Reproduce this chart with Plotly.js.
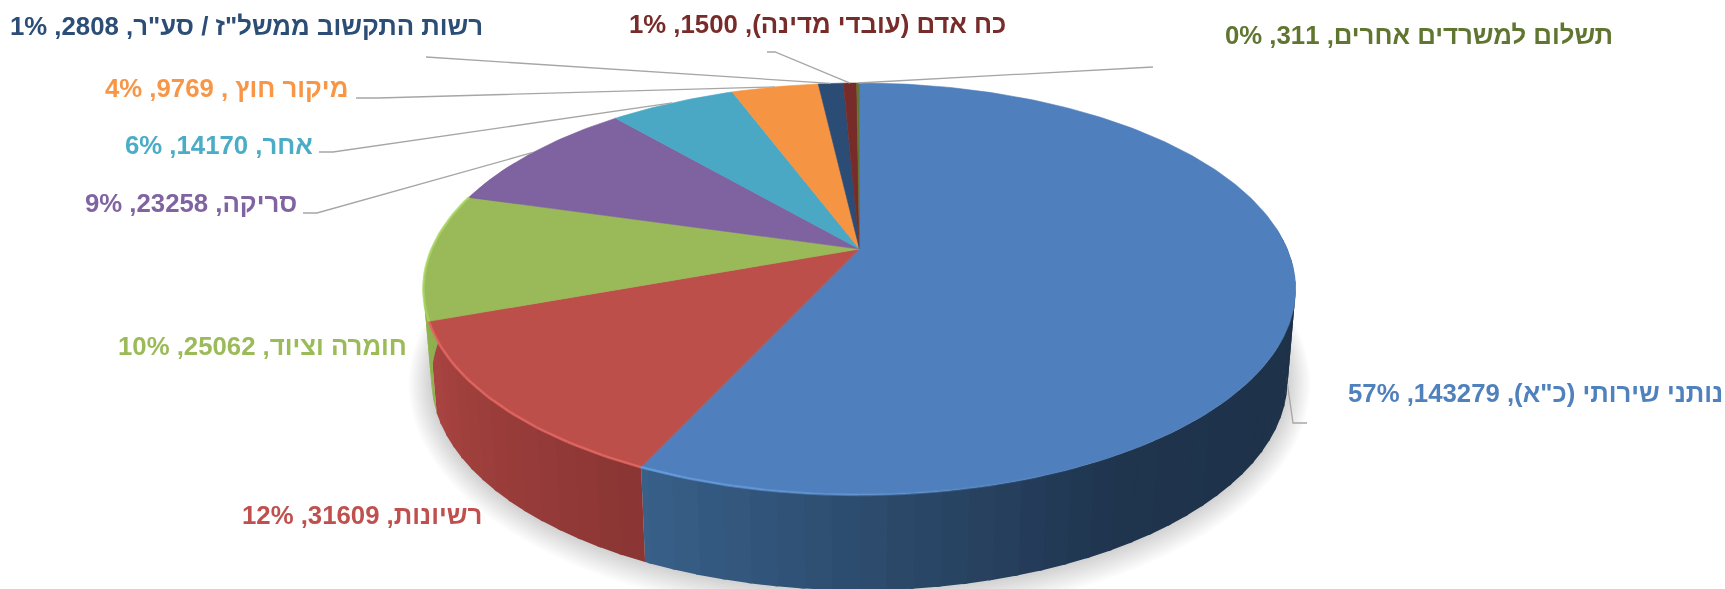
<!DOCTYPE html>
<html><head><meta charset="utf-8">
<script src="https://cdn.plot.ly/plotly-3.0.1.min.js"></script>
<style>html,body{margin:0;padding:0;background:#fff;overflow:hidden}#chart{width:1725px;height:589px;filter:blur(0.55px)}</style>
</head><body><div id="chart"></div>
<script>
// ---- data (clockwise from 12 o'clock)
const categories = ['נותני שירותי (כ"א)','רשיונות','חומרה וציוד','סריקה','אחר','מיקור חוץ ','רשות התקשוב ממשל"ז / סע"ר','כח אדם (עובדי מדינה)','תשלום למשרדים אחרים'];
const values = [143279,31609,25062,23258,14170,9769,2808,1500,311];
const percentLabels = ['57%','12%','10%','9%','6%','4%','1%','1%','0%'];

// ---- styles
const sliceColors = ['#4f7fbc','#bd4f4b','#9ab958','#7f62a0','#4aa8c4','#f59544','#2a4c75','#772c2a','#5f7530'];
const labelColors = ['#4f81bd','#c0504d','#9bbb59','#8064a2','#4bacc6','#f79646','#2c4d75','#772c2a','#5f7530'];
const wallStops = [
  [[100,'#1d3148'],[150,'#1f344d'],[205,'#38608a']],
  [[205,'#8a3634'],[250,'#aa4441']],
  [[250,'#8fb050'],[286,'#8fb050']],
  [[286,'#6b5287'],[319,'#6b5287']],[[319,'#3f8ea4'],[340,'#3f8ea4']],[[340,'#cf7d38'],[354,'#cf7d38']],
  [[354,'#234062'],[358,'#234062']],[[358,'#632523'],[360,'#632523']],[[360,'#4f6128'],[360,'#4f6128']]
];
// ---- layout in pixel-like axis units
const W = 1725, H = 589;
const top3d = {cx:859.5, cy:249, a:427.8, b:198.2, k:0.194};
const bot3d = {cx:859.5, cy:339, a:420, b:202.6, k:0.194};
const labelRight = [1725,484,409,299,315,350,485,1008,1615];
const labelMidY  = [393,515,346,203,145,88,26,24,35];
const labelKnee = [[[1307,423],[1293,423]],null,null,[[303,213],[317,213]],[[319,152],[333,152]],[[356,98],[378,98]],[[426,57]],[[767,52],[775,52]],[[1153,67]]];
const fontSize = 25.75;

function proj(p, thetaDeg, grow){
  const t = thetaDeg*Math.PI/180, u = Math.sin(t), v = Math.cos(t), w = 1+p.k*v, g = grow||0;
  return [p.cx+(p.a+g)*u/w, p.cy-(p.b+g)*v/w];
}
function arc(p,t1,t2,grow){
  const n = Math.max(2,Math.ceil(Math.abs(t2-t1)/1)), pts=[];
  for(let i=0;i<=n;i++) pts.push(proj(p,t1+(t2-t1)*i/n,grow));
  return pts;
}
function hex2rgb(h){return [1,3,5].map(i=>parseInt(h.substr(i,2),16));}
function wallColor(i,th){
  const s = wallStops[i];
  if(th<=s[0][0]) return s[0][1];
  for(let j=1;j<s.length;j++){
    if(th<=s[j][0]){
      const f=(th-s[j-1][0])/(s[j][0]-s[j-1][0]), a=hex2rgb(s[j-1][1]), b=hex2rgb(s[j][1]);
      return 'rgb('+a.map((c,q)=>Math.round(c+(b[q]-c)*f)).join(',')+')';
    }
  }
  return s[s.length-1][1];
}
function poly(pts,color,lineColor,lw){
  return {type:'scatter',mode:'lines',x:pts.map(p=>p[0]),y:pts.map(p=>p[1]),fill:'toself',fillcolor:color,
    line:{color:lineColor||color,width:lw===undefined?0.6:lw},hoverinfo:'skip',showlegend:false};
}
const total = values.reduce((a,b)=>a+b,0);
let c=0; const edges = values.map(v=>{const s=c; c+=v; return [s/total*360,c/total*360];});
const traces=[];

// soft shadow under the pie
for(let g=22;g>=1;g-=2){
  const pts=arc(bot3d,0,360,g);
  traces.push(poly(pts,'rgba(0,0,0,0.014)','rgba(0,0,0,0)',0));
}
// side walls: each wedge painted over the previous one, so no seams show
edges.forEach((e,i)=>{
  const step=Math.min(3,Math.max(e[1]-e[0],0.1));
  const list=[];
  for(let t=e[0];t<e[1]-1e-6;t+=step) list.push([t,Math.min(e[1],t+step)]);
  list.forEach(r=>{
    if(r[1]<85||r[0]>295) return;
    const ext=Math.min(e[1],r[1]+0.5);
    const pts=arc(top3d,r[0],ext).concat(arc(bot3d,ext,r[0]));
    traces.push(poly(pts,wallColor(i,(r[0]+r[1])/2),null,0));
  });
});
// top faces
edges.forEach((e,i)=>{
  const pts=[[top3d.cx,top3d.cy]].concat(arc(top3d,e[0],e[1]));
  pts.push([top3d.cx,top3d.cy]);
  traces.push(poly(pts,sliceColors[i]));
});
// bevel highlight on the front rim
const rim=[[150,205,'110,165,235'],[205,250,'232,105,100'],[250,286,'170,215,100']];
rim.forEach(r=>{
  for(let t=r[0];t<r[1];t+=5){
    const f=r[0]===150?(t-150)/55:1;
    const pts=arc(top3d,t,Math.min(r[1],t+5));
    traces.push({type:'scatter',mode:'lines',x:pts.map(p=>p[0]),y:pts.map(p=>p[1]),
      line:{color:'rgba('+r[2]+','+(0.75*f).toFixed(2)+')',width:2.6},hoverinfo:'skip',showlegend:false});
  }
});
// leader lines: from each label knee to the slice's mid-angle on the rim
labelKnee.forEach((k,i)=>{
  if(!k) return;
  const mid=(edges[i][0]+edges[i][1])/2;
  const end=i===0?proj(bot3d,mid):proj(top3d,mid);
  const pts=k.concat([end]);
  traces.push({type:'scatter',mode:'lines',x:pts.map(p=>p[0]),y:pts.map(p=>p[1]),
    line:{color:'#a6a6a6',width:1.3},hoverinfo:'skip',showlegend:false});
});

const annotations = categories.map((name,i)=>({
  xref:'x',yref:'y',x:labelRight[i],y:labelMidY[i],xanchor:'right',yanchor:'middle',showarrow:false,
  text:'\u202B'+name+', '+values[i]+', '+percentLabels[i]+'\u202C',
  font:{family:'"Liberation Sans",Arial,sans-serif',size:fontSize,color:labelColors[i],weight:700}
}));
Plotly.newPlot('chart',traces,{
  width:W,height:H,margin:{l:0,r:0,t:0,b:0},paper_bgcolor:'#fff',plot_bgcolor:'#fff',showlegend:false,
  xaxis:{range:[0,W],visible:false,fixedrange:true},
  yaxis:{range:[H,0],visible:false,fixedrange:true},
  annotations:annotations,hovermode:false
},{displayModeBar:false,responsive:false});
</script></body></html>
